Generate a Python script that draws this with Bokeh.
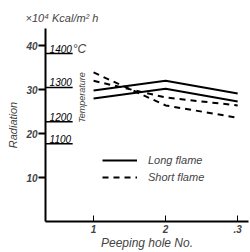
from bokeh.plotting import figure
from bokeh.models import Range1d, Legend, LegendItem, Label, FixedTicker
from bokeh.core.properties import value
from bokeh.embed import file_html
from bokeh.resources import INLINE

holes = [1, 2, 3]
hole_labels = {1: "1", 2: "2", 3: ".3"}
long_flame_a = [29.8, 32.0, 29.1]
long_flame_b = [28.0, 30.2, 27.3]
short_flame_a = [33.9, 26.4, 23.6]
short_flame_b = [32.0, 28.2, 26.4]
rad_ticks = [10, 20, 30, 40]
temp_labels = ["1400", "1300", "1200", "1100"]
temp_pos = [38.2, 30.5, 22.7, 17.7]
unit_text = "×10⁴ Kcal/m² h"

FONT = "Liberation Sans"

p = figure(width=250, height=252, output_backend="svg", toolbar_location=None,
           x_range=Range1d(0.333, 3.15), y_range=Range1d(0, 43.9),
           min_border_left=45, min_border_right=2, min_border_top=28, min_border_bottom=31,
           title=unit_text)
p.outline_line_color = None
p.xgrid.visible = False
p.ygrid.visible = False

p.title.text_font = FONT
p.title.text_font_style = "italic"
p.title.text_font_size = "11px"
p.title.align = "left"
p.title.offset = -20
p.title.standoff = 9

# y axis
ya = p.yaxis[0]
ya.ticker = FixedTicker(ticks=rad_ticks)
ya.minor_tick_line_color = None
ya.major_tick_in = 0
ya.major_tick_out = 7
ya.major_tick_line_width = 2
ya.axis_line_width = 2
ya.major_label_standoff = 1
ya.major_label_text_font = FONT
ya.major_label_text_font_style = "bold italic"
ya.major_label_text_font_size = "10px"
ya.axis_label = "Radiation"
ya.axis_label_text_font = FONT
ya.axis_label_text_font_style = "italic"
ya.axis_label_text_font_size = "11px"
ya.axis_label_standoff = 4

# x axis
xa = p.xaxis[0]
xa.ticker = FixedTicker(ticks=holes)
xa.major_label_overrides = hole_labels
xa.minor_tick_line_color = None
xa.major_tick_in = 6
xa.major_tick_out = 0
xa.axis_line_width = 2
xa.major_label_standoff = 3
xa.major_label_text_font = FONT
xa.major_label_text_font_style = "bold italic"
xa.major_label_text_font_size = "10px"
xa.axis_label = "Peeping hole No."
xa.axis_label_text_font = FONT
xa.axis_label_text_font_style = "italic"
xa.axis_label_text_font_size = "12px"
xa.axis_label_standoff = 0

# temperature scale inside
p.segment(x0=[0.333] * len(temp_pos), x1=[0.71] * len(temp_pos), y0=temp_pos, y1=temp_pos,
          line_color="black", line_width=1.5)
p.text(x=[0.39] * len(temp_pos), y=temp_pos, text=temp_labels, text_font=value(FONT),
       text_font_style="italic", text_font_size="10px", text_baseline="bottom", y_offset=-1)
p.add_layout(Label(x=0.71, y=temp_pos[0], text="°C", text_font=FONT, text_font_style="italic",
                   text_font_size="12px", text_baseline="bottom", y_offset=-2))
p.add_layout(Label(x=0.84, y=28.2, text="Temperature", angle=1.5708, angle_units="rad",
                   text_font=FONT, text_font_style="italic", text_font_size="9px",
                   text_align="center", text_baseline="middle"))

# data lines
r1 = p.line(holes, long_flame_a, line_color="black", line_width=2)
p.line(holes, long_flame_b, line_color="black", line_width=2)
r2 = p.line(holes, short_flame_a, line_color="black", line_width=2, line_dash="6 5")
p.line(holes, short_flame_b, line_color="black", line_width=2, line_dash="6 5")

legend = Legend(items=[LegendItem(label="Long flame", renderers=[r1]),
                       LegendItem(label="Short flame", renderers=[r2])],
                location=(57, 37), glyph_width=35, label_standoff=11, padding=0, margin=0,
                spacing=3, border_line_color=None, background_fill_alpha=0,
                label_text_font=FONT, label_text_font_style="italic", label_text_font_size="11px",
                label_height=14, glyph_height=14)
p.add_layout(legend)

open("out.html", "w").write(file_html(p, INLINE))
